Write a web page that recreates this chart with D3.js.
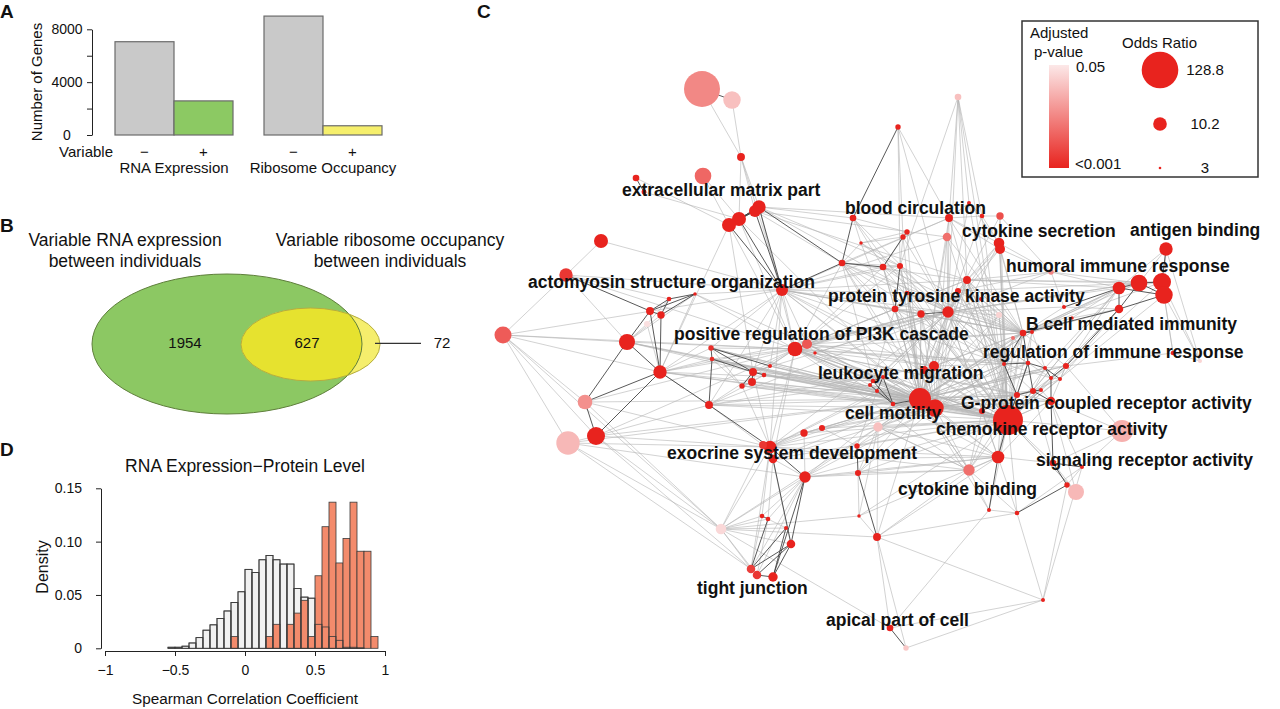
<!DOCTYPE html>
<html>
<head>
<meta charset="utf-8">
<script src="https://cdn.jsdelivr.net/npm/d3@7"></script>
<style>
body { margin: 0; background: #fff; }
svg text { font-family: "Liberation Sans", Arial, Helvetica, sans-serif; fill: #111; }
</style>
</head>
<body>
<svg id="fig" width="1280" height="709"></svg>
<script>
//panel A data
var groupNames = ["RNA Expression", "Ribosome Occupancy"];
var variableLevels = ["\u2212", "+"];
var genesNotVariable = [7060, 9000];
var genesVariable = [2581, 699];
var countTicks = [0, 2000, 4000, 6000, 8000];
var countTickLabels = ["0", "", "4000", "", "8000"];

//panel B data
var vennCounts = [1954, 627, 72];
var vennTitles = [["Variable RNA expression", "between individuals"], ["Variable ribosome occupancy", "between individuals"]];

//panel D data (bins of 0.05)
var corrBins = [-0.55,-0.5,-0.45,-0.4,-0.35,-0.3,-0.25,-0.2,-0.15,-0.1,-0.05,0,0.05,0.1,0.15,0.2,0.25,0.3,0.35,0.4,0.45,0.5,0.55,0.6,0.65,0.7,0.75,0.8,0.85,0.9];
var densityAll = [0.001,0.001,0.002,0.005,0.010,0.017,0.022,0.028,0.035,0.043,0.053,0.074,0.071,0.083,0.087,0.083,0.079,0.079,0.056,0.048,0.047,0.0225,0.020,0.011,0.0075,0.001,0.001,0.0005,0,0];
var densityVariable = [0,0,0,0,0,0,0,0,0,0.011,0,0,0,0,0.011,0.0225,0,0.0225,0.033,0.045,0.011,0.068,0.114,0.137,0.080,0.103,0.137,0.091,0.091,0.011];
var corrTicks = [-1, -0.5, 0, 0.5, 1];
var corrTickLabels = ["\u22121", "\u22120.5", "0", "0.5", "1"];
var densTicks = [0, 0.05, 0.10, 0.15];
var densTickLabels = ["0", "0.05", "0.10", "0.15"];

//panel C data: [layout x, layout y, odds ratio, adjusted p]
var goNodes = [
 [222,39,120,.026],[252,50,15.5,.04],[261,107,5.4,.001],[156,128,4.7,.001],[164,142,3.9,.001],
 [223,126,14.2,.018],[279,157,9.9,.001],[275,161,8.5,.001],[259,169,10.6,.001],[249,175,10.6,.001],
 [373,168,4.7,.001],[381,193,3.3,.001],[362,213,4.7,.001],[121,191,10.6,.001],[86,225,9.9,.006],
 [302,240,8.5,.001],[215,244,3.3,.001],[189,249,3.75,.001],[170,261,5.4,.001],[181,265,5.1,.001],
 [167,274,4.4,.048],[147,292,13.3,.001],[23,285,14.8,.015],[180,322,9.9,.001],[315,299,11.4,.001],
 [327,294,6.8,.014],[231,298,4.1,.004],[232,309,3.75,.004],[335,303,3.3,.001],[273,322,5.4,.001],
 [284,325,3.75,.001],[290,316,3.5,.001],[478,47,4.7,.04],[418,77,4.1,.001],[469,168,5.4,.001],
 [489,153,3.5,.001],[502,166,3.75,.001],[520,166,5.1,.012],[427,182,4.1,.001],[423,187,4.1,.001],
 [467,187,5.8,.02],[519,193,7.3,.001],[520,199,6.8,.001],[403,217,4.7,.001],[420,216,4.4,.001],
 [571,222,4.1,.025],[686,199,9.9,.001],[487,230,5.4,.001],[478,241,4.4,.001],[427,243,3.75,.001],
 [501,249,3.5,.001],[415,259,4.7,.001],[441,264,5.1,.001],[468,262,7.95,.001],[519,265,4.4,.045],
 [584,257,3.5,.001],[639,238,9.1,.001],[659,233,14.2,.001],[682,232,16.5,.001],[684,245,15.5,.001],
 [639,259,5.8,.001],[592,268,3.3,.001],[543,283,4.7,.001],[552,282,3.5,.001],[533,288,3.5,.02],
 [693,303,3.75,.001],[720,311,3.5,.045],[524,314,3.5,.001],[548,313,3.75,.001],[565,318,3.5,.001],
 [586,316,4.4,.001],[571,328,3.5,.001],[580,329,3.5,.001],[537,345,4.4,.001],[553,341,4.4,.001],
 [561,340,3.5,.001],[571,351,5.8,.001],[454,316,6.8,.001],[444,320,5.4,.001],[393,331,3.75,.001],
 [390,335,3.5,.001],[403,327,3.5,.001],[397,341,3.5,.001],[413,354,3.75,.001],[440,349,25.6,.001],
 [455,358,15.5,.001],[502,361,4.4,.001],[528,370,61.7,.001],[398,377,6.35,.04],[642,381,25.6,.036],
 [518,407,9.1,.001],[573,413,4.7,.001],[602,417,3.5,.001],[489,420,7.95,.02],[587,435,4.1,.001],
 [596,442,13.3,.038],[509,460,3.5,.001],[537,463,3.75,.001],[563,550,3.5,.001],[105,352,11.4,.028],
 [116,386,16.5,.001],[88,393,30,.038],[229,355,5.4,.001],[272,332,5.4,.001],[262,336,4.1,.001],
 [324,383,5.1,.001],[342,378,4.4,.001],[377,396,4.1,.001],[290,397,9.1,.001],[283,395,5.4,.006],
 [293,409,5.8,.001],[325,427,7.95,.001],[378,423,4.4,.001],[282,466,3.75,.001],[288,469,3.75,.001],
 [306,478,3.5,.001],[379,466,3.3,.001],[241,479,7.27,.046],[311,494,5.8,.001],[397,487,5.4,.001],
 [271,519,5.8,.008],[277,525,5.8,.006],[293,527,6.35,.001],[410,578,4.7,.001],[426,598,4.1,.042]
];
var goEdgesLight = "0-2 1-2 2-6 2-7 2-8 2-15 3-9 4-8 5-8 5-9 6-10 6-24 6-34 6-44 6-53 7-12 7-40 7-47 8-24 8-84 9-23 9-29 9-24 10-11 10-43 10-38 11-12 11-39 11-44 12-24 12-34 12-44 12-84 12-85 12-87 13-14 13-15 14-22 14-17 14-21 14-24 14-15 16-21 16-23 16-24 16-15 16-25 17-20 19-21 20-21 20-23 22-21 22-23 22-99 22-100 22-101 22-117 22-24 22-15 21-84 21-24 21-29 23-26 23-27 23-84 23-85 23-102 23-24 99-84 99-24 99-108 99-117 100-101 100-120 100-117 100-108 100-24 100-102 100-84 101-84 101-108 101-111 101-117 101-120 15-24 15-29 15-84 15-85 15-25 15-43 15-51 15-77 15-53 15-102 15-108 15-87 15-31 15-23 15-26 24-29 24-31 24-26 24-27 24-84 24-85 24-87 24-53 24-52 24-77 24-108 24-102 24-110 24-47 24-62 24-67 25-28 25-84 25-87 25-53 25-47 26-84 26-87 26-104 27-84 27-85 27-104 29-31 29-84 29-87 29-108 30-31 30-84 30-87 30-104 31-84 31-85 102-84 102-85 102-87 102-109 103-84 103-85 103-104 103-30 103-102 104-84 104-108 105-106 105-108 105-111 105-84 105-87 106-84 106-87 106-107 107-84 107-82 108-84 108-85 108-87 108-113 108-118 108-120 108-117 109-84 109-110 109-117 110-84 110-87 110-114 110-111 111-113 111-114 111-121 111-120 111-117 111-112 111-84 111-85 111-87 112-116 112-84 112-88 113-120 114-121 113-117 115-114 117-120 117-121 117-114 117-119 117-116 117-123 117-118 117-115 119-123 119-116 119-98 124-98 124-119 116-87 116-88 116-90 77-78 77-84 77-85 78-84 79-84 81-84 82-84 84-86 84-87 85-86 85-87 86-87 84-88 88-87 84-53 84-47 84-52 84-51 84-49 84-44 84-43 84-62 84-67 84-73 84-76 84-90 84-93 84-96 84-119 84-40 84-34 85-53 85-62 85-67 85-68 85-73 85-90 85-93 85-24 85-25 79-24 79-29 79-23 79-12 79-51 80-24 80-102 81-53 82-108 83-111 87-86 87-93 87-91 87-76 87-67 87-62 87-53 87-47 87-58 87-56 87-89 87-95 87-96 87-97 87-71 87-68 87-63 32-34 32-35 32-36 32-53 32-44 33-34 33-39 34-35 34-36 35-36 36-37 34-40 38-43 39-44 43-44 43-51 44-49 49-51 47-53 48-53 47-48 51-52 40-53 41-37 41-47 42-47 42-53 11-38 34-41 34-42 36-41 35-41 47-50 48-50 50-54 53-54 54-62 54-87 53-62 53-87 47-56 47-57 48-58 53-57 52-84 51-84 49-84 44-24 43-24 51-24 52-24 51-53 52-77 53-77 53-78 47-77 41-84 42-62 41-45 37-45 42-45 43-85 44-85 49-85 51-85 52-85 40-85 34-87 47-85 48-84 48-85 48-87 50-84 50-87 45-56 45-57 45-55 55-60 61-56 61-60 63-56 62-56 62-57 62-58 63-60 64-56 65-59 65-58 66-59 66-58 66-65 46-66 46-59 46-57 46-56 61-62 55-62 55-53 45-53 45-47 45-48 56-53 57-53 60-87 56-87 59-87 58-47 56-58 62-64 63-68 64-67 69-70 70-72 71-72 71-74 72-74 73-75 75-76 70-76 67-74 69-74 67-71 68-71 63-69 64-69 62-70 67-84 67-85 73-84 73-85 76-87 74-87 67-87 68-87 69-84 70-84 72-87 75-87 62-84 63-84 64-84 67-53 68-53 62-53 62-47 70-56 70-60 72-60 69-56 65-70 76-90 76-92 74-91 90-91 92-94 94-95 91-95 90-97 96-97 93-96 93-97 92-97 94-98 92-98 97-98 98-123 96-123 97-119 93-119 90-93 89-76 89-91 89-70 89-92 95-87 95-76 93-84 93-88 88-119 88-117 119-90 24-86 24-90 24-93 24-73 24-76 24-68 25-85 25-62 25-67 25-52 25-77 28-84 28-87 28-53 15-47 15-62 15-67 15-52 15-49 15-44 15-40 15-34 12-53 12-47 12-52 12-77 12-62 43-53 43-87 44-87 44-53 49-53 49-87 51-87 52-87 52-62 52-67 77-87 77-62 77-67 77-73 78-87 78-62 78-53 40-87 40-62 41-53 41-87 42-87 41-62 42-67 47-62 47-67 48-62 48-67 50-62 50-67 53-67 53-73 53-68 53-86 53-90 54-67 54-84 54-85 86-62 86-67 86-73 86-90 86-93 90-62 90-67 90-73 93-73 93-62 85-76 85-74 85-69 84-68 84-69 84-70 84-74 84-63 87-69 87-70 87-74 87-75 87-64 105-85 106-85 107-85 107-87 111-90 111-93 112-87 112-85 112-90 112-93 29-85 29-53 102-53 102-77 108-53 108-77 108-90 108-93 110-85 110-90 23-87 23-53 21-85 21-87 26-85 27-87 31-87 30-85 104-85 104-87 79-87 80-87 81-87 82-87 83-87 79-53 80-53 83-85 82-85 81-85 80-84 88-85 88-90 88-93 47-73 48-73 51-62 51-67 49-62 44-62 43-62 34-53 34-62 35-53 36-53 37-53 37-87 36-87 35-87 10-53 10-87 11-53 11-84 38-53 38-84 39-84 39-53 33-53 33-44 32-47 32-87";
var goEdgesDark = "0-1 3-4 6-7 7-8 8-9 6-8 7-9 6-9 6-12 6-15 7-15 8-15 9-15 10-12 12-43 33-10 14-18 16-17 16-18 16-19 17-18 17-19 18-19 18-21 18-23 19-23 21-23 99-23 100-23 99-100 24-25 26-27 26-29 26-31 27-29 27-102 29-30 29-104 102-23 102-108 103-29 108-109 108-110 108-111 107-112 111-118 113-114 115-120 115-122 118-120 118-121 118-122 123-124 79-80 79-81 80-82 81-82 82-83 79-83 81-83 83-84 84-85 38-39 39-43 44-51 52-53 41-42 56-57 57-58 58-59 56-59 57-59 56-60 57-60 59-60 46-58 62-63 62-67 62-68 67-68 67-73 68-69 68-73 68-74 69-71 69-72 73-74 74-75 74-76 71-76 70-71 73-87 87-90 76-91 91-92 91-94 94-97 60-62 55-56 60-70 12-15 21-99 114-120 121-122 110-118 111-122 112-119 90-96";
var goLabels = [
 ["extracellular matrix part",142,140],["blood circulation",365,158],["cytokine secretion",482,181],
 ["antigen binding",650,180],["humoral immune response",526,216],["actomyosin structure organization",48,232],
 ["protein tyrosine kinase activity",348,246],["B cell mediated immunity",546,274],
 ["positive regulation of PI3K cascade",194,284],["regulation of immune response",503,302],
 ["leukocyte migration",338,323],["G-protein coupled receptor activity",481,353],["cell motility",365,363],
 ["chemokine receptor activity",456,379],["exocrine system development",187,403],
 ["signaling receptor activity",556,410],["cytokine binding",418,439],["tight junction",217,538],
 ["apical part of cell",346,570]
];
var legendOdds = [128.8, 10.2, 3];
var legendP = ["0.05", "<0.001"];

var svg = d3.select("#fig");

//panel letters
[["A",0,18],["B",0,232],["C",477,18],["D",0,456]].forEach(function(p)
	{
		svg.append("text").attr("x", p[1]).attr("y", p[2]).attr("font-size", 19)
			.attr("font-weight", "bold").text(p[0]);
	});

//----- panel A -----
var gA = svg.append("g");
var yA = d3.scaleLinear().domain([0, 8000]).range([135, 29.3]);
var xA = d3.scaleBand().domain(groupNames).range([115, 382]).paddingInner(0.208);
var xSub = d3.scaleBand().domain(variableLevels).range([0, xA.bandwidth()]);
var barsA = [];
groupNames.forEach(function(g, i)
	{
		barsA.push({group: g, level: variableLevels[0], value: genesNotVariable[i], fill: "#c9c9c9"});
		barsA.push({group: g, level: variableLevels[1], value: genesVariable[i], fill: i == 0 ? "#8cc963" : "#f6ef6c"});
	});
gA.selectAll("rect").data(barsA).enter().append("rect")
	.attr("x", function(d) { return xA(d.group) + xSub(d.level); })
	.attr("y", function(d) { return yA(d.value); })
	.attr("width", xSub.bandwidth())
	.attr("height", function(d) { return yA(0) - yA(d.value); })
	.attr("fill", function(d) { return d.fill; })
	.attr("stroke", "#6b6b6b").attr("stroke-width", 1.2);

var axA = gA.append("g").attr("transform", "translate(92,0)")
	.call(d3.axisLeft(yA).tickValues(countTicks).tickSize(5).tickSizeOuter(0)
		.tickFormat(function(d, i) { return countTickLabels[i]; }));
axA.selectAll("text").attr("text-anchor", "middle").attr("x", -25).attr("font-size", 14).style("font-family", null);
axA.selectAll("path,line").attr("stroke", "#222");

gA.append("text").attr("x", 113).attr("y", 157.4).attr("text-anchor", "end").attr("font-size", 15).text("Variable");
barsA.forEach(function(d)
	{
		gA.append("text").attr("x", xA(d.group) + xSub(d.level) + xSub.bandwidth() / 2).attr("y", 157.4)
			.attr("text-anchor", "middle").attr("font-size", 15).text(d.level);
	});
groupNames.forEach(function(g)
	{
		gA.append("text").attr("x", xA(g) + xA.bandwidth() / 2).attr("y", 172.5)
			.attr("text-anchor", "middle").attr("font-size", 15).text(g);
	});
gA.append("text").attr("transform", "translate(41.5,82) rotate(-90)").attr("text-anchor", "middle")
	.attr("font-size", 15).text("Number of Genes");

//----- panel B -----
var gB = svg.append("g");
vennTitles.forEach(function(t, i)
	{
		var cx = i == 0 ? 125 : 390;
		t.forEach(function(line, j)
			{
				gB.append("text").attr("x", cx).attr("y", 245.8 + j * 21).attr("text-anchor", "middle")
					.attr("font-size", 17.5).text(line);
			});
	});
var greenE = {cx: 227, cy: 344, rx: 135, ry: 70};
var yellowE = {cx: 310.5, cy: 344.5, rx: 69.5, ry: 36.5};
svg.append("defs").append("clipPath").attr("id", "clipGreen").append("ellipse")
	.attr("cx", greenE.cx).attr("cy", greenE.cy).attr("rx", greenE.rx).attr("ry", greenE.ry);
function ell(g, e) { return g.append("ellipse").attr("cx", e.cx).attr("cy", e.cy).attr("rx", e.rx).attr("ry", e.ry); }
ell(gB, greenE).attr("fill", "#8cc863");
ell(gB, yellowE).attr("fill", "#f5ee6c");
ell(gB, yellowE).attr("fill", "#e6e22f").attr("clip-path", "url(#clipGreen)");
ell(gB, greenE).attr("fill", "none").attr("stroke", "#5f7f3c").attr("stroke-width", 1);
ell(gB, yellowE).attr("fill", "none").attr("stroke", "#b5ad3e").attr("stroke-width", 1);
var vennLabelX = [185, 307, 442];
vennCounts.forEach(function(c, i)
	{
		gB.append("text").attr("x", vennLabelX[i]).attr("y", 348.3).attr("text-anchor", "middle")
			.attr("font-size", 15).text(c);
	});
gB.append("line").attr("x1", 375).attr("x2", 421).attr("y1", 343.3).attr("y2", 343.3)
	.attr("stroke", "#333").attr("stroke-width", 1.2);

//----- panel D -----
var gD = svg.append("g");
var xD = d3.scaleLinear().domain([-1, 1]).range([105, 385]);
var yD = d3.scaleLinear().domain([0, 0.15]).range([648.3, 488.3]);
var binW = 0.05;
var allBins = corrBins.map(function(b, i) { return {x0: b, d: densityAll[i]}; }).filter(function(b) { return b.d > 0; });
var varBins = corrBins.map(function(b, i) { return {x0: b, d: densityVariable[i]}; }).filter(function(b) { return b.d > 0; });
function histRects(g, data, fill)
{
	return g.selectAll(null).data(data).enter().append("rect")
		.attr("x", function(d) { return xD(d.x0); })
		.attr("width", function(d) { return xD(d.x0 + binW) - xD(d.x0); })
		.attr("y", function(d) { return yD(d.d); })
		.attr("height", function(d) { return yD(0) - yD(d.d); })
		.attr("fill", fill).attr("stroke", "#3a3a3a").attr("stroke-width", 0.8);
}
histRects(gD, allBins, "#f1f1f1");
histRects(gD, varBins, "#f38b6c");
histRects(gD, allBins, "none");

var axDx = gD.append("g").attr("transform", "translate(0,651)")
	.call(d3.axisBottom(xD).tickValues(corrTicks).tickSize(5).tickSizeOuter(0).tickPadding(9)
		.tickFormat(function(d, i) { return corrTickLabels[i]; }));
var axDy = gD.append("g").attr("transform", "translate(101,0)")
	.call(d3.axisLeft(yD).tickValues(densTicks).tickSize(5).tickSizeOuter(0).tickPadding(14)
		.tickFormat(function(d, i) { return densTickLabels[i]; }));
[axDx, axDy].forEach(function(a)
	{
		a.selectAll("text").attr("font-size", 14).style("font-family", null);
		a.selectAll("path,line").attr("stroke", "#222");
	});
gD.append("text").attr("x", 245).attr("y", 472).attr("text-anchor", "middle").attr("font-size", 17.5)
	.text("RNA Expression\u2212Protein Level");
gD.append("text").attr("x", 245).attr("y", 703.5).attr("text-anchor", "middle").attr("font-size", 15.3)
	.text("Spearman Correlation Coefficient");
gD.append("text").attr("transform", "translate(47.5,567) rotate(-90)").attr("text-anchor", "middle")
	.attr("font-size", 16).text("Density");

//----- panel C -----
var gC = svg.append("g");
var xC = d3.scaleLinear().domain([0, 780]).range([480, 1260]);
var yC = d3.scaleLinear().domain([0, 650]).range([50, 700]);
var rOdds = d3.scaleLog().domain([3, 128.8]).range([1.3, 18.3]).clamp(true);
var colP = d3.scaleLinear().domain([0.001, 0.05]).range(["#e8231e", "#fce8e8"]).clamp(true);

function parseEdges(s) { return s.split(/\s+/).map(function(e) { return e.split("-").map(Number); }); }
var lightE = parseEdges(goEdgesLight), darkE = parseEdges(goEdgesDark);
function drawEdges(list, color, op)
{
	gC.append("g").selectAll("line").data(list).enter().append("line")
		.attr("x1", function(d) { return xC(goNodes[d[0]][0]); })
		.attr("y1", function(d) { return yC(goNodes[d[0]][1]); })
		.attr("x2", function(d) { return xC(goNodes[d[1]][0]); })
		.attr("y2", function(d) { return yC(goNodes[d[1]][1]); })
		.attr("stroke", color).attr("stroke-opacity", op).attr("stroke-width", 1);
}
drawEdges(lightE, "#b4b4b4", 0.6);
drawEdges(darkE, "#3c3c3c", 0.85);

gC.append("g").selectAll("circle").data(goNodes).enter().append("circle")
	.attr("cx", function(d) { return xC(d[0]); })
	.attr("cy", function(d) { return yC(d[1]); })
	.attr("r", function(d) { return rOdds(d[2]); })
	.attr("fill", function(d) { return colP(d[3]); });

gC.append("g").selectAll("text").data(goLabels).enter().append("text")
	.attr("x", function(d) { return xC(d[1]); })
	.attr("y", function(d) { return yC(d[2]); })
	.attr("dy", "0.36em")
	.attr("font-size", 17.5).attr("font-weight", "bold")
	.text(function(d) { return d[0]; });

//legend
var gL = svg.append("g");
gL.append("rect").attr("x", 1022).attr("y", 21).attr("width", 236).attr("height", 156)
	.attr("fill", "#fff").attr("stroke", "#333").attr("stroke-width", 1.5);
var grad = svg.select("defs").append("linearGradient").attr("id", "pgrad")
	.attr("x1", 0).attr("y1", 0).attr("x2", 0).attr("y2", 1);
grad.append("stop").attr("offset", 0).attr("stop-color", colP(0.05));
grad.append("stop").attr("offset", 1).attr("stop-color", colP(0.001));
gL.append("rect").attr("x", 1049).attr("y", 65).attr("width", 20).attr("height", 103).attr("fill", "url(#pgrad)");
gL.append("text").attr("x", 1030).attr("y", 37.7).attr("font-size", 15).text("Adjusted");
gL.append("text").attr("x", 1034).attr("y", 56.7).attr("font-size", 15).text("p-value");
gL.append("text").attr("x", 1076).attr("y", 71.7).attr("font-size", 15).text(legendP[0]);
gL.append("text").attr("x", 1075).attr("y", 169).attr("font-size", 15).text(legendP[1]);
gL.append("text").attr("x", 1122).attr("y", 48.3).attr("font-size", 15).text("Odds Ratio");
var legY = [70, 124, 168];
legendOdds.forEach(function(o, i)
	{
		gL.append("circle").attr("cx", 1160).attr("cy", legY[i]).attr("r", rOdds(o)).attr("fill", colP(0.001));
		gL.append("text").attr("x", 1205).attr("y", legY[i]).attr("dy", "0.35em").attr("text-anchor", "middle")
			.attr("font-size", 15).text(o);
	});
</script>
</body>
</html>
